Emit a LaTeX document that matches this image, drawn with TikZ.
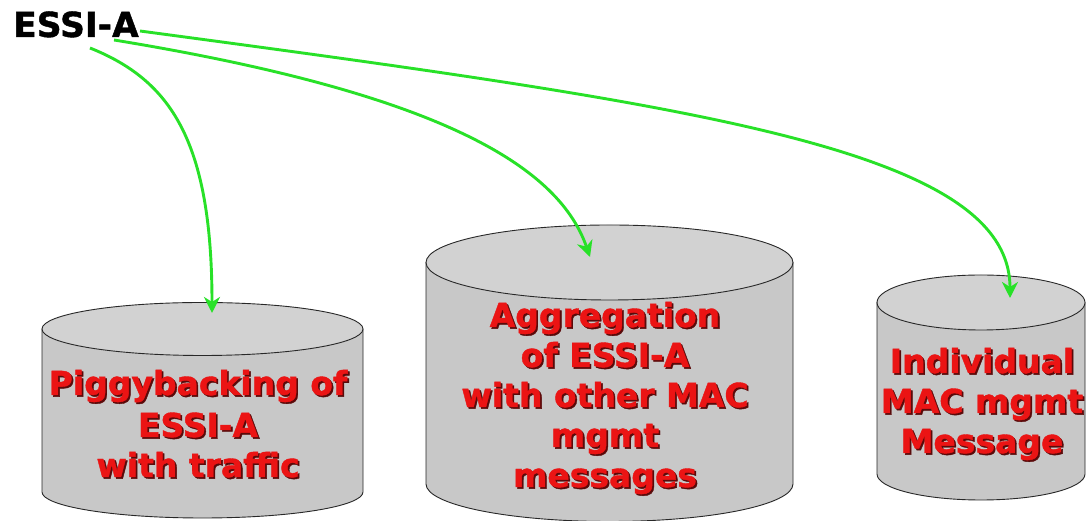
\documentclass[tikz,border=0pt]{standalone}
\usepackage{fontspec}
\setmainfont{DejaVu Sans}
\newfontfamily\heavyfont{DejaVu Sans}[BoldFont={DejaVu Sans Bold}, BoldFeatures={FakeBold=1.2}]
\usetikzlibrary{arrows.meta}
\definecolor{arrgreen}{RGB}{40,225,40}
\definecolor{txtred}{RGB}{235,20,20}
\definecolor{shadowred}{RGB}{90,10,10}
\definecolor{cylbody}{RGB}{200,200,200}
\definecolor{cyltop}{RGB}{210,210,210}
\definecolor{cylline}{RGB}{40,40,40}
\tikzset{
  cylstyle/.style={draw=cylline, line width=0.9pt, fill=cylbody},
  topstyle/.style={draw=cylline, line width=0.9pt, fill=cyltop},
  redtxt/.style={anchor=base, inner sep=0pt, text=txtred, font=\fontsize{33}{40}\selectfont\heavyfont\bfseries},
  shadowtxt/.style={redtxt, text=shadowred, xshift=1.7pt, yshift=-1.7pt},
  labeltxt/.style={anchor=base west, inner sep=0pt, text=black, font=\fontsize{34.5}{40}\selectfont\heavyfont\bfseries},
  link/.style={draw=arrgreen, line width=2.9pt, -{Stealth[length=16pt, width=16pt, inset=5pt]}}
}
\newcommand\rtext[4]{%
  \node[shadowtxt] (#1s) at (#2,#3) {#4};
  \node[redtxt] (#1) at (#2,#3) {#4};}
\newcommand\cyl[6]{% cx, rx, top cy, top ry, bottom cy, bottom ry
  \path[cylstyle] (#1-#2,#3) -- (#1-#2,#5) arc[start angle=180, end angle=360, x radius=#2, y radius=#6] -- (#1+#2,#3) -- cycle;
  \path[topstyle] (#1,#3) ellipse [x radius=#2, y radius=#4];}
\begin{document}
\begin{tikzpicture}[x=1pt, y=1pt]
\useasboundingbox[fill=white] (0,0) rectangle (1087,521);
% cylinders
\cyl{202.5}{160.5}{192}{26.5}{29}{26}
\cyl{609.5}{183.5}{258.5}{37.5}{37}{37.5}
\cyl{981}{104}{218.5}{27.5}{47}{26}
% texts
\rtext{a1}{198}{126}{Piggybacking of}
\rtext{a2}{198}{84}{ESSI-A}
\rtext{a3}{198}{44}{with traffic}
\rtext{b1}{605}{194}{Aggregation}
\rtext{b2}{605}{154}{of ESSI-A}
\rtext{b3}{605}{114}{with other MAC}
\rtext{b4}{605}{74}{mgmt}
\rtext{b5}{605}{34}{messages}
\rtext{c1}{982}{148}{Individual}
\rtext{c2}{982}{108}{MAC mgmt}
\rtext{c3}{982}{68}{Message}
% source label
\node[labeltxt] (src) at (13,484) {ESSI-A};
\coordinate (s1) at (90,473);
\coordinate (s2) at (114,481);
\coordinate (s3) at (140,490);
\coordinate (e1) at (212,208);
\coordinate (e2) at (590,264);
\coordinate (e3) at (1010,223);
\draw[link] (s1) .. controls (170,441) and (212,381) .. (e1);
\draw[link] (s2) .. controls (450,426) and (560,351) .. (e2);
\draw[link] (s3) .. controls (700,415) and (1010,371) .. (e3);
\end{tikzpicture}
\end{document}
